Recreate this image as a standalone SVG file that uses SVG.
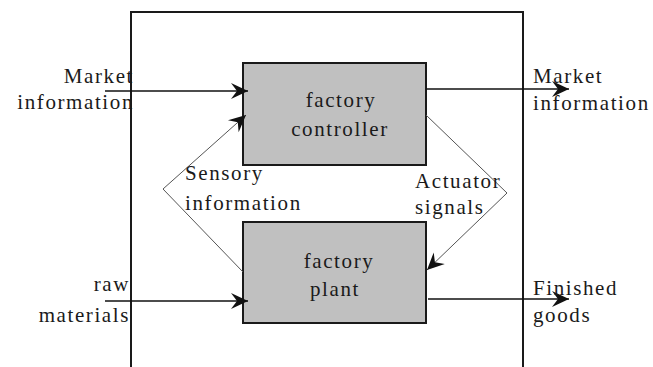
<svg xmlns="http://www.w3.org/2000/svg" width="653" height="367" viewBox="0 0 653 367">
  <style>
    .frame { fill: none; stroke: #1a1a1a; stroke-width: 2; }
    .box { fill: #c0c0c0; stroke: #1a1a1a; stroke-width: 2; }
    .flow { fill: none; stroke: #111; stroke-width: 1.6; }
    .sig { fill: none; stroke: #555; stroke-width: 1; }
  </style>
  <defs>
    <marker id="barb" viewBox="-18 -10 20 20" refX="0" refY="0" markerWidth="20" markerHeight="20" markerUnits="userSpaceOnUse" orient="auto">
      <path d="M0,0 L-17,-8 L-11,0 L-17,8 Z" fill="#111"/>
    </marker>
  </defs>

  <!-- factory boundary (open at the bottom) -->
  <rect class="frame" x="131" y="12" width="392" height="370"/>

  <g font-family="'Liberation Serif', 'Times New Roman', serif" font-size="21" fill="#1a1a1a" letter-spacing="1.6">
    <g id="controller">
      <rect class="box" x="243" y="63" width="183" height="102"/>
      <text text-anchor="middle" x="341" y="107">factory</text>
      <text text-anchor="middle" x="340" y="136">controller</text>
    </g>

    <g id="plant">
      <rect class="box" x="243" y="222" width="183" height="101"/>
      <text text-anchor="middle" x="339" y="268">factory</text>
      <text text-anchor="middle" x="335" y="296">plant</text>
    </g>

    <g id="connectors">
      <line class="flow" x1="105" y1="91" x2="248" y2="91" marker-end="url(#barb)"/>
      <line class="flow" x1="426" y1="89" x2="569" y2="89" marker-end="url(#barb)"/>
      <line class="flow" x1="105" y1="301" x2="248" y2="301" marker-end="url(#barb)"/>
      <line class="flow" x1="428" y1="299" x2="569" y2="299" marker-end="url(#barb)"/>
      <polyline class="sig" points="243,272 163,189 246,115" marker-end="url(#barb)"/>
      <polyline class="sig" points="426,115 507,193 427,270" marker-end="url(#barb)"/>
    </g>

    <g id="labels">
      <text text-anchor="end" x="134" y="83">Market</text>
      <text text-anchor="end" x="134" y="109">information</text>
      <text x="533" y="83">Market</text>
      <text x="533" y="110">information</text>
      <text x="185" y="180">Sensory</text>
      <text x="185" y="210">information</text>
      <text x="415" y="188">Actuator</text>
      <text x="415" y="214">signals</text>
      <text text-anchor="end" x="130" y="291">raw</text>
      <text text-anchor="end" x="130" y="322">materials</text>
      <text x="533" y="295">Finished</text>
      <text x="533" y="322">goods</text>
    </g>
  </g>
</svg>
